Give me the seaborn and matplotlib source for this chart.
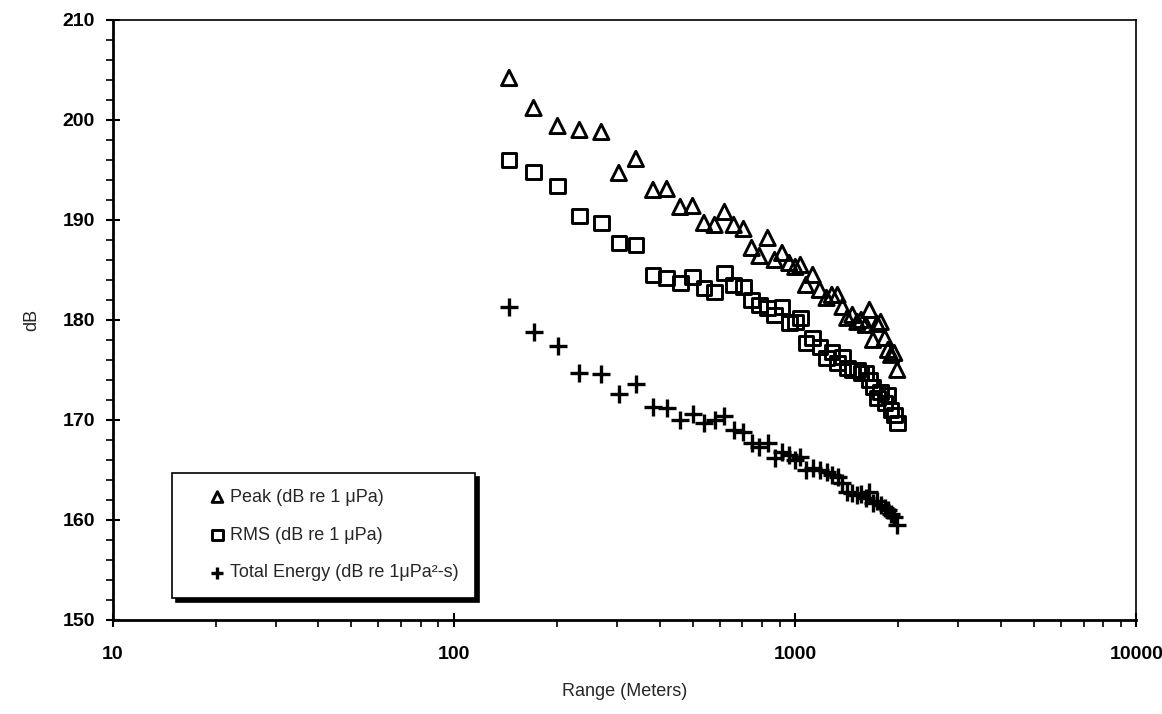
import numpy as np
import pandas as pd
import matplotlib
matplotlib.use("Agg")
import matplotlib.pyplot as plt
from matplotlib.ticker import LogLocator, MultipleLocator, NullFormatter, FixedLocator
import seaborn as sns

# ---- data ----
range_m = [145, 171, 201, 233, 270, 304, 341, 383, 420, 460, 500, 540, 580, 620, 660,
           705, 745, 785, 830, 870, 915, 960, 1000, 1035, 1075, 1125, 1180, 1235, 1280,
           1330, 1375, 1420, 1470, 1520, 1560, 1610, 1650, 1690, 1740, 1780, 1830, 1870,
           1910, 1950, 1990]
peak_db = [204.2, 201.2, 199.4, 199.0, 198.8, 194.7, 196.1, 193.0, 193.1, 191.3, 191.4,
           189.7, 189.5, 190.8, 189.5, 189.1, 187.2, 186.4, 188.2, 186.0, 186.7, 185.7,
           185.3, 185.5, 183.5, 184.5, 183.0, 182.2, 182.5, 182.5, 181.3, 180.2, 180.5,
           179.8, 180.0, 179.5, 181.0, 178.0, 179.6, 179.8, 178.2, 177.0, 176.5, 176.7,
           175.0]
rms_db = [196.0, 194.8, 193.4, 190.4, 189.7, 187.7, 187.5, 184.5, 184.2, 183.7, 184.3,
          183.2, 182.8, 184.7, 183.5, 183.3, 182.0, 181.5, 181.2, 180.5, 181.3, 179.7,
          179.8, 180.2, 177.7, 178.2, 177.3, 176.2, 176.8, 175.7, 176.3, 175.2, 175.0,
          175.0, 174.7, 174.7, 174.0, 173.3, 172.2, 172.8, 171.7, 172.5, 171.0, 170.5,
          169.7]
energy_db = [181.3, 178.8, 177.4, 174.7, 174.6, 172.6, 173.6, 171.3, 171.2, 170.0, 170.6,
             169.7, 170.0, 170.4, 169.0, 168.8, 167.7, 167.3, 167.7, 166.2, 166.8, 166.5,
             166.0, 166.3, 165.0, 165.2, 165.0, 164.8, 164.5, 164.3, 163.7, 162.8, 162.7,
             162.5, 162.6, 162.2, 162.8, 161.7, 161.9, 161.5, 161.2, 161.0, 160.6, 160.3,
             159.5]
labels = ["Peak (dB re 1 μPa)", "RMS (dB re 1 μPa)", "Total Energy (dB re 1μPa²-s)"]
x_ticks = [10, 100, 1000, 10000]
y_ticks = [150, 160, 170, 180, 190, 200, 210]

# ---- figure ----
sns.set_style("white")
plt.rcParams["font.family"] = ["Liberation Sans", "DejaVu Sans"]

fig = plt.figure(figsize=(11.62, 7.14), dpi=100)
ax = fig.add_axes([0.0972, 0.132, 0.8808, 0.840])

sns.scatterplot(x=range_m, y=peak_db, marker="^", s=120, facecolor="none",
                edgecolor="black", linewidth=2.1, ax=ax, label=labels[0])
sns.scatterplot(x=range_m, y=rms_db, marker="s", s=110, facecolor="none",
                edgecolor="black", linewidth=2.1, ax=ax, label=labels[1])
sns.scatterplot(x=range_m, y=energy_db, marker="+", s=160, color="black",
                linewidth=2.4, ax=ax, label=labels[2])

ax.set_xscale("log")
ax.set_xlim(10, 10000)
ax.set_ylim(150, 210)
ax.xaxis.set_major_locator(FixedLocator(x_ticks))
ax.set_xticklabels([str(v) for v in x_ticks])
ax.xaxis.set_minor_locator(LogLocator(base=10, subs=np.arange(2, 10)))
ax.xaxis.set_minor_formatter(NullFormatter())
ax.yaxis.set_major_locator(FixedLocator(y_ticks))
ax.set_yticklabels([str(v) for v in y_ticks])
ax.yaxis.set_minor_locator(MultipleLocator(2))

ax.tick_params(axis="both", which="both", bottom=True, left=True, top=False, right=False)
ax.tick_params(axis="both", which="major", direction="inout", length=10, width=1.5,
               colors="black", labelsize=14, pad=8)
ax.tick_params(axis="both", which="minor", direction="out", length=5, width=1.2,
               colors="black")
ax.tick_params(axis="x", which="major", pad=14)
for lab in ax.get_xticklabels() + ax.get_yticklabels():
    lab.set_fontweight("bold")

for side, sp in ax.spines.items():
    sp.set_color("black")
    sp.set_visible(True)
    sp.set_linewidth(2.0 if side in ("left", "bottom") else 1.2)

ax.set_xlabel("Range (Meters)", fontsize=13, labelpad=14)
ax.set_ylabel("dB", fontsize=13, labelpad=16)

leg = ax.legend(loc="lower left", bbox_to_anchor=(0.058, 0.037), fontsize=13,
                frameon=True, fancybox=False, edgecolor="black", framealpha=1,
                shadow={"color": "black", "alpha": 1, "ox": 3, "oy": -3},
                markerscale=0.7, handletextpad=-0.9, handlelength=3.2,
                labelspacing=1.15, borderpad=0.9, borderaxespad=0)
leg.get_frame().set_linewidth(1.2)

fig.savefig("out.png", dpi=100)
